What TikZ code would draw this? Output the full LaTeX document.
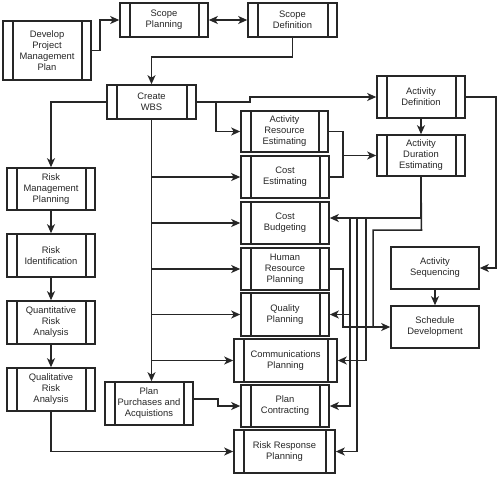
\documentclass[tikz,border=0pt]{standalone}
\usepackage{fontspec}
\setmainfont{Liberation Sans}
\usetikzlibrary{arrows.meta,calc}
\tikzset{
  boxline/.style={draw=black!85, line width=1.6pt},
  procbox/.style={boxline, rectangle, inner sep=0pt, align=center,
    font=\fontsize{9.4}{11}\selectfont, text=black!85},
  conn/.style={draw=black!85, line width=1.5pt},
  arr/.style={conn, -{Stealth[length=9pt,width=8pt,inset=2.5pt]}},
  dblarr/.style={conn, {Stealth[length=9pt,width=8pt,inset=2.5pt]}-{Stealth[length=9pt,width=8pt,inset=2.5pt]}}
}
% name, x1, y1, x2, y2, text
\newcommand\plainbox[6]{%
  \node[procbox, minimum width=#4pt-#2pt, minimum height=#5pt-#3pt]
    (#1) at ({(#2+#4)/2},{(#3+#5)/2}) {#6};}
\newcommand\pbox[6]{%
  \plainbox{#1}{#2}{#3}{#4}{#5}{#6}%
  \draw[boxline] ([xshift=10.5pt]#1.north west) -- ([xshift=10.5pt]#1.south west);
  \draw[boxline] ([xshift=-10pt]#1.north east) -- ([xshift=-10pt]#1.south east);}
\begin{document}
\begin{tikzpicture}[x=1pt,y=-1pt]
\useasboundingbox (0,0) rectangle (500,477);
\pbox{dpmp}{3}{21}{91}{80}{Develop\\Project\\Management\\Plan}
\pbox{sp}{120}{3}{208}{37}{Scope\\Planning}
\pbox{sd}{248}{3}{337}{37}{Scope\\Definition}
\pbox{wbs}{107}{85}{196}{119}{Create\\WBS}
\pbox{ad}{377}{76}{465}{118}{Activity\\Definition}
\pbox{are}{241}{111}{328}{152}{Activity\\Resource\\Estimating}
\pbox{ade}{377}{135}{465}{176}{Activity\\Duration\\Estimating}
\pbox{ce}{241}{156}{329}{198}{Cost\\Estimating}
\pbox{cb}{241}{202}{329}{244}{Cost\\Budgeting}
\pbox{hrp}{241}{248}{329}{290}{Human\\Resource\\Planning}
\pbox{qp}{241}{293}{329}{336}{Quality\\Planning}
\pbox{cp}{234}{339}{337}{382}{Communications\\Planning}
\pbox{pc}{241}{385}{329}{427}{Plan\\Contracting}
\pbox{rrp}{234}{430}{335}{473}{Risk Response\\Planning}
\plainbox{as}{391}{247}{479}{289}{Activity\\Sequencing}
\plainbox{sdv}{391}{306}{479}{348}{Schedule\\Development}
\pbox{rmp}{7}{168}{95}{210}{Risk\\Management\\Planning}
\pbox{ri}{7}{234}{95}{277}{Risk\\Identification}
\pbox{qra}{7}{301}{95}{344}{Quantitative\\Risk\\Analysis}
\pbox{qlra}{7}{368}{95}{411}{Qualitative\\Risk\\Analysis}
\pbox{ppa}{105}{382}{193}{425}{Plan\\Purchases and\\Acquistions}

% junction coordinates
\coordinate (jwbs) at (151.5,119);
\coordinate (jare) at (216,102);
\coordinate (jb) at (350,218);
\coordinate (jc) at (357,218);
\coordinate (jd) at (366,218);

% top
\draw[arr] (dpmp.east) -- (100,50.5) |- (sp.west);
\draw[dblarr] (sp.east) -- (sd.west);
\draw[arr] (sd.south) -- (292.5,57) -| (wbs.north);
% risk column
\draw[arr] (wbs.west) -| (rmp.north);
\draw[arr] (rmp.south) -- (ri.north);
\draw[arr] (ri.south) -- (qra.north);
\draw[arr] (qra.south) -- (qlra.north);
\draw[arr] (qlra.south) |- (rrp.west);
% wbs trunk
\draw[arr] (jwbs) -- (jwbs |- ppa.north);
\draw[arr] (jwbs |- ce.west) -- (ce.west);
\draw[arr] (jwbs |- cb.west) -- (cb.west);
\draw[arr] (jwbs |- hrp.west) -- (hrp.west);
\draw[arr] (jwbs |- qp.west) -- (qp.west);
\draw[arr] (jwbs |- cp.west) -- (cp.west);
\draw[arr] ([shift={(0,-4.5)}]ppa.east) -- (218,399) |- (pc.west);
% wbs to activities
\draw[arr] (wbs.east) -- (250,102) |- (ad.west);
\draw[arr] (jare) |- (are.west);
\draw[arr] (are.east) -- (343,131.5) |- (ade.west);
\draw[conn] (ce.east) -| (343,155.5);
\draw[arr] (ad.south) -- (ade.north);
\draw[arr] (ad.east) -- (496,97) |- (as.east);
\draw[arr] (as.south) -- (as.south |- sdv.north);
% duration estimating outputs
\draw[arr] (ade.south) |- ([shift={(0,-5)}]cb.east);
\draw[conn] (ade.south) -- (421.5,230) -| (373,327);
\draw[arr] (hrp.east) -- (343,269) |- (sdv.west);
\draw[arr] (jb) |- (pc.east);
\draw[arr] (jb |- qp.east) -- (qp.east);
\draw[arr] (jc) |- (rrp.east);
\draw[arr] (jd) |- (cp.east);
\end{tikzpicture}
\end{document}
